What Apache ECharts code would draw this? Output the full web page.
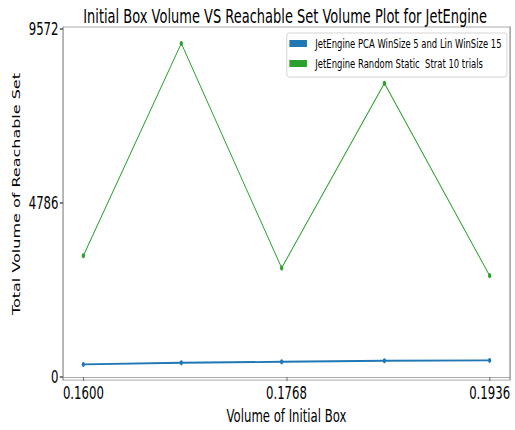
<!DOCTYPE html>
<html>
<head>
<meta charset="utf-8">
<script src="https://cdn.jsdelivr.net/npm/echarts@6/dist/echarts.min.js"></script>
<style>
html,body{margin:0;padding:0;background:#fff;overflow:hidden;}
#wrap{width:515px;height:430px;overflow:hidden;position:relative;}
#c{width:792px;height:430px;transform:scaleX(0.65);transform-origin:0 0;position:absolute;left:0;top:0;}
</style>
</head>
<body>
<div id="wrap"><div id="c"></div></div>
<script>
// ---- data ----
const initialBoxVolume = [0.16, 0.1681, 0.1764, 0.1849, 0.1936];
const pcaVolumes = [345, 391, 419, 446, 455];
const randomVolumes = [3337, 9179, 3000, 8084, 2789];
const xTickValues = [0.16, 0.1768, 0.1936];
const yTickValues = [0, 4786, 9572];
const seriesNames = ['JetEngine PCA WinSize 5 and Lin WinSize 15', 'JetEngine Random Static  Strat 10 trials'];
const titleText = 'Initial Box Volume VS Reachable Set Volume Plot for JetEngine';
const xAxisName = 'Volume of Initial Box';
const yAxisName = 'Total Volume of Reachable Set';

const FONT = 'DejaVu Sans';
const chart = echarts.init(document.getElementById('c'), null, {renderer: 'svg'});
const pair = (xs, ys) => xs.map((x, i) => [x, ys[i]]);

chart.setOption({
  animation: false,
  backgroundColor: '#fff',
  title: {
    text: titleText,
    left: 128, top: 6, padding: 0,
    textStyle: {fontFamily: FONT, fontSize: 20, fontWeight: 'normal', color: '#000'}
  },
  legend: {
    orient: 'vertical',
    right: 12, top: 33,
    padding: [4, 8, 7, 4],
    itemGap: 7,
    itemWidth: 27, itemHeight: 7,
    icon: 'rect',
    backgroundColor: '#fff',
    borderColor: '#cccccc', borderWidth: 1, borderRadius: 3,
    textStyle: {fontFamily: FONT, fontSize: 13, color: '#000', padding: [0, 0, 0, 8]},
    data: seriesNames
  },
  grid: {
    left: 97, right: 7.5, top: 27, bottom: 48,
    show: true, borderColor: '#999', borderWidth: 1, containLabel: false
  },
  xAxis: {
    type: 'value',
    min: 0.15832, max: 0.19528,
    name: xAxisName, nameLocation: 'middle', nameGap: 22,
    nameTextStyle: {fontFamily: FONT, fontSize: 18, color: '#000'},
    axisLine: {show: true, lineStyle: {color: '#999', width: 1}},
    axisTick: {show: true, length: 4, customValues: xTickValues, lineStyle: {color: '#555'}},
    axisLabel: {
      customValues: xTickValues, margin: 4,
      fontFamily: FONT, fontSize: 18, color: '#000',
      formatter: v => v.toFixed(4)
    },
    splitLine: {show: false}
  },
  yAxis: [{
    type: 'value',
    min: -86, max: 9632,
    name: yAxisName, nameLocation: 'middle', nameGap: 55,
    nameTextStyle: {fontFamily: FONT, fontSize: 16, color: '#000', padding: [0, 0, 0, 19]},
    axisLine: {show: true, lineStyle: {color: '#999', width: 1.5}},
    axisTick: {show: true, length: 5, customValues: yTickValues, lineStyle: {color: '#555', width: 1.5}},
    axisLabel: {
      customValues: yTickValues, margin: 7,
      fontFamily: FONT, fontSize: 18, color: '#000',
      formatter: v => String(Math.round(v))
    },
    splitLine: {show: false}
  }, {
    type: 'value', position: 'right',
    min: -86, max: 9632,
    axisLine: {show: true, onZero: false, lineStyle: {color: '#999', width: 1.5}},
    axisTick: {show: false}, axisLabel: {show: false}, splitLine: {show: false}
  }],
  series: [{
    name: seriesNames[0], type: 'line',
    data: pair(initialBoxVolume, pcaVolumes),
    color: '#1f77b4',
    lineStyle: {color: '#1f77b4', width: 1.8},
    symbol: 'circle', symbolSize: 5,
    itemStyle: {color: '#1f77b4'}
  }, {
    name: seriesNames[1], type: 'line',
    data: pair(initialBoxVolume, randomVolumes),
    color: '#2ca02c',
    lineStyle: {color: '#2ca02c', width: 1.3},
    symbol: 'circle', symbolSize: 5,
    itemStyle: {color: '#2ca02c'}
  }]
});
</script>
</body>
</html>
